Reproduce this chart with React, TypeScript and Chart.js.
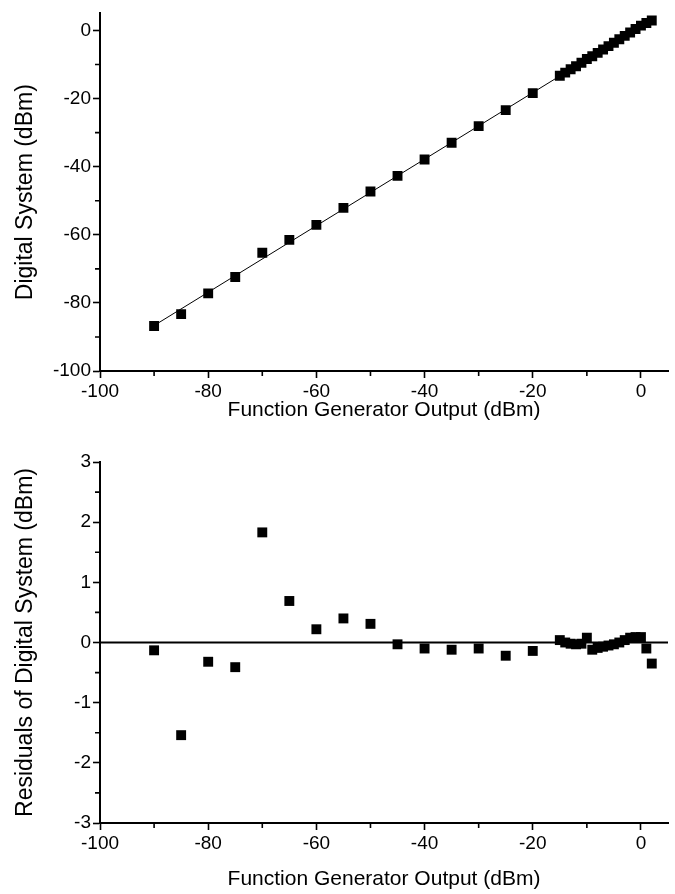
import React, { useEffect, useRef } from 'react';
import { Chart, registerables } from 'chart.js';

Chart.register(...registerables);

// Function generator output (dBm)
const fgOutput = [
  -90, -85, -80, -75, -70, -65, -60, -55, -50, -45, -40, -35, -30, -25, -20,
  -15, -14, -13, -12, -11, -10, -9, -8, -7, -6, -5, -4, -3, -2, -1, 0, 1, 2,
];
// Digital system reading (dBm)
const digitalSystem = [
  -86.8, -83.3, -77.2, -72.4, -65.3, -61.5, -57.1, -52.1, -47.3, -42.7, -37.9, -33.0, -28.1, -23.4, -18.4,
  -13.3, -12.4, -11.4, -10.5, -9.5, -8.4, -7.6, -6.6, -5.6, -4.6, -3.6, -2.6, -1.6, -0.6, 0.4, 1.4, 2.2, 2.9,
];
// Residuals of digital system (dBm)
const residuals = [
  -0.13, -1.54, -0.32, -0.41, 1.83, 0.69, 0.22, 0.4, 0.31, -0.03, -0.1, -0.12, -0.1, -0.22, -0.14,
  0.04, 0.0, -0.02, -0.03, -0.02, 0.08, -0.12, -0.09, -0.07, -0.05, -0.03, 0.0, 0.04, 0.08, 0.09, 0.09, -0.1, -0.35,
];
// Linear fit line end points
const fitX = [-90, 2];
const fitY = [-86.65, 3.23];
// Zero reference line
const zeroX = [-100, 5];
const zeroY = [0, 0];

// Axis ticks
const xMajor = [-100, -80, -60, -40, -20, 0];
const xMinor = [-90, -70, -50, -30, -10];
const topYMajor = [-100, -80, -60, -40, -20, 0];
const topYMinor = [-90, -70, -50, -30, -10];
const botYMajor = [-3, -2, -1, 0, 1, 2, 3];
const botYMinor = [-2.5, -1.5, -0.5, 0.5, 1.5, 2.5];

const FONT = "'Liberation Sans', Arial, sans-serif";
const W = 675;
const H = 447;

const minorTickPlugin = {
  id: 'minorTicks',
  afterDraw(chart: any, _args: any, opts: any) {
    const ctx = chart.ctx;
    const xs = chart.scales.x;
    const ys = chart.scales.y;
    ctx.save();
    ctx.strokeStyle = '#000';
    ctx.lineWidth = 1.6;
    ctx.beginPath();
    for (const v of opts.xMinor || []) {
      const px = xs.getPixelForValue(v);
      ctx.moveTo(px, xs.top);
      ctx.lineTo(px, xs.top + 5);
    }
    for (const v of opts.yMinor || []) {
      const py = ys.getPixelForValue(v);
      ctx.moveTo(ys.right, py);
      ctx.lineTo(ys.right - 5, py);
    }
    ctx.stroke();
    ctx.restore();
  },
};

function makeConfig(opts: {
  points: { x: number; y: number }[];
  line: { x: number; y: number }[];
  lineWidth: number;
  yMin: number;
  yMax: number;
  yMajor: number[];
  yMinor: number[];
  yTitle: string;
  padTop: number;
  xAxisHeight: number;
  xTitlePadBottom: number;
}): any {
  return {
    type: 'scatter',
    data: {
      datasets: [
        {
          data: opts.line,
          showLine: true,
          pointRadius: 0,
          borderColor: '#000',
          borderWidth: opts.lineWidth,
          backgroundColor: '#000',
        },
        {
          data: opts.points,
          pointStyle: 'rect',
          pointRadius: 7,
          pointHoverRadius: 7,
          backgroundColor: '#000',
          borderColor: '#000',
          borderWidth: 0,
          showLine: false,
        },
      ],
    },
    options: {
      responsive: false,
      animation: false,
      events: [],
      layout: { padding: { top: opts.padTop, right: 7, left: 0, bottom: 0 } },
      plugins: {
        legend: { display: false },
        tooltip: { enabled: false },
        minorTicks: { xMinor, yMinor: opts.yMinor },
      },
      scales: {
        x: {
          type: 'linear',
          min: -100,
          max: 5,
          afterBuildTicks: (s: any) => {
            s.ticks = xMajor.map((v) => ({ value: v }));
          },
          afterFit: (s: any) => {
            s.height = opts.xAxisHeight;
          },
          ticks: {
            color: '#000',
            font: { family: FONT, size: 19 },
            padding: 2,
            maxRotation: 0,
          },
          grid: {
            drawOnChartArea: false,
            drawTicks: true,
            tickLength: 7,
            tickWidth: 1.6,
            tickColor: '#000',
          },
          border: { display: true, color: '#000', width: 2 },
          title: {
            display: true,
            text: 'Function Generator Output (dBm)',
            color: '#000',
            font: { family: FONT, size: 21 },
            padding: { top: 0, bottom: opts.xTitlePadBottom },
          },
        },
        y: {
          type: 'linear',
          min: opts.yMin,
          max: opts.yMax,
          afterBuildTicks: (s: any) => {
            s.ticks = opts.yMajor.map((v) => ({ value: v }));
          },
          afterFit: (s: any) => {
            s.width = 100;
          },
          ticks: {
            color: '#000',
            font: { family: FONT, size: 19 },
            padding: 2,
          },
          grid: {
            drawOnChartArea: false,
            drawTicks: true,
            tickLength: 7,
            tickWidth: 1.6,
            tickColor: '#000',
          },
          border: { display: true, color: '#000', width: 2 },
          title: {
            display: true,
            text: opts.yTitle,
            color: '#000',
            font: { family: FONT, size: 23 },
            padding: { top: 12, bottom: 0 },
          },
        },
      },
    },
    plugins: [minorTickPlugin],
  };
}

export default function App() {
  const topRef = useRef<HTMLCanvasElement | null>(null);
  const botRef = useRef<HTMLCanvasElement | null>(null);

  useEffect(() => {
    const topPoints = fgOutput.map((x, i) => ({ x, y: digitalSystem[i] }));
    const botPoints = fgOutput.map((x, i) => ({ x, y: residuals[i] }));
    const fitLine = fitX.map((x, i) => ({ x, y: fitY[i] }));
    const zeroLine = zeroX.map((x, i) => ({ x, y: zeroY[i] }));

    const top = new Chart(
      topRef.current as HTMLCanvasElement,
      makeConfig({
        points: topPoints,
        line: fitLine,
        lineWidth: 1,
        yMin: -100,
        yMax: 5,
        yMajor: topYMajor,
        yMinor: topYMinor,
        yTitle: 'Digital System (dBm)',
        padTop: 13,
        xAxisHeight: H - 13 - (371 - 13),
        xTitlePadBottom: 24,
      })
    );
    const bot = new Chart(
      botRef.current as HTMLCanvasElement,
      makeConfig({
        points: botPoints,
        line: zeroLine,
        lineWidth: 1.8,
        yMin: -3,
        yMax: 3,
        yMajor: botYMajor,
        yMinor: botYMinor,
        yTitle: 'Residuals of Digital System (dBm)',
        padTop: 15,
        xAxisHeight: H - 376,
        xTitlePadBottom: 2,
      })
    );
    return () => {
      top.destroy();
      bot.destroy();
    };
  }, []);

  return (
    <div style={{ position: 'absolute', left: 0, top: 0, width: W, height: 2 * H, background: '#fff' }}>
      <canvas ref={topRef} width={W} height={H} style={{ display: 'block' }} />
      <canvas ref={botRef} width={W} height={H} style={{ display: 'block' }} />
    </div>
  );
}
